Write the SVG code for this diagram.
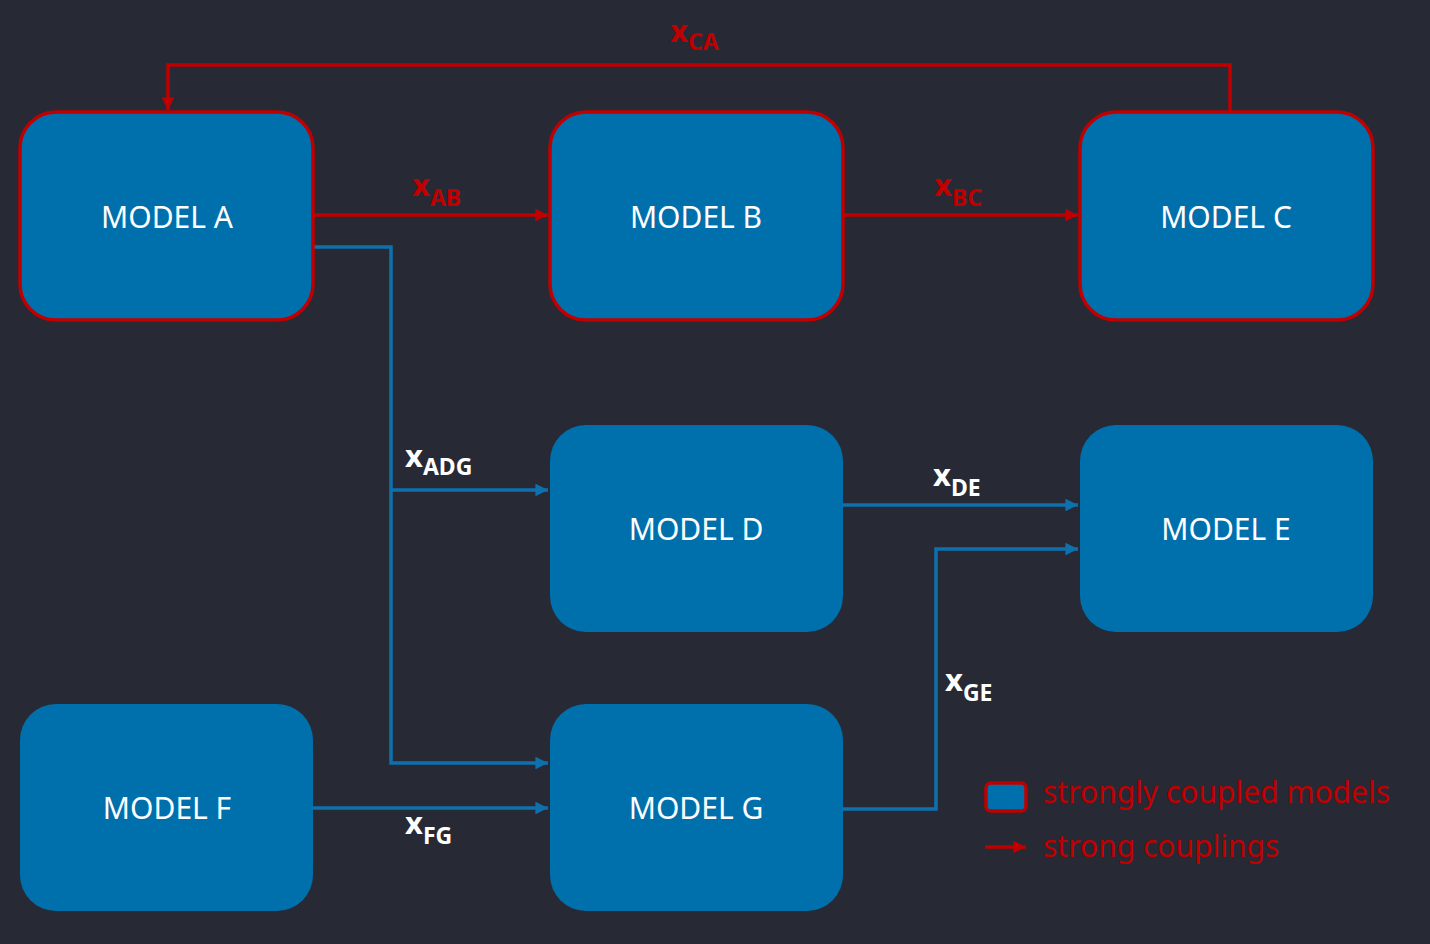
<svg xmlns="http://www.w3.org/2000/svg" width="1430" height="944" viewBox="0 0 1430 944">
<defs>
<marker id="ar" viewBox="0 0 10 10" refX="10" refY="5" markerWidth="4" markerHeight="3.6" orient="auto" markerUnits="strokeWidth"><path d="M0,0 L10,5 L0,10 z" fill="#C00000"/></marker>
<marker id="ab" viewBox="0 0 10 10" refX="10" refY="5" markerWidth="4" markerHeight="3.6" orient="auto" markerUnits="strokeWidth"><path d="M0,0 L10,5 L0,10 z" fill="#0F70AE"/></marker>
<style>
.node{fill:#0070AD}
.strong{stroke:#C00000;stroke-width:3.5}
.nt{font-family:"Noto Sans","Open Sans",sans-serif;font-size:30px;fill:#FFFFFF;text-anchor:middle}
.rl{fill:none;stroke:#C00000;stroke-width:3.5;marker-end:url(#ar)}
.bl{fill:none;stroke:#0F70AE;stroke-width:3.5;marker-end:url(#ab)}
.lab{font-family:"Noto Sans","Open Sans",sans-serif;font-weight:bold;font-size:31px}
.sub{font-size:23px}
.red{fill:#C00000}
.wh{fill:#FFFFFF}
.leg{font-family:"Noto Sans","Open Sans",sans-serif;font-size:30px;fill:#C00000}
</style>
</defs>
<rect width="1430" height="944" fill="#272935"/>
<g id="connectors">
<path class="rl" d="M1230,112 V65 H168 V110"/>
<path class="rl" d="M313,215 H548"/>
<path class="rl" d="M843,215 H1078"/>
<path class="bl" d="M313,247 H391 V763 H548"/>
<path class="bl" d="M391,490 H548"/>
<path class="bl" d="M843,505 H1078"/>
<path class="bl" d="M843,809 H936 V549 H1078"/>
<path class="bl" d="M313,808 H548"/>
<text class="lab red" x="670" y="42">x<tspan class="sub" dy="8">CA</tspan></text>
<text class="lab red" x="412" y="196">x<tspan class="sub" dy="10">AB</tspan></text>
<text class="lab red" x="934" y="196">x<tspan class="sub" dy="10">BC</tspan></text>
<text class="lab wh" x="405" y="467">x<tspan class="sub" dy="8">ADG</tspan></text>
<text class="lab wh" x="933" y="486">x<tspan class="sub" dy="10">DE</tspan></text>
<text class="lab wh" x="945" y="691">x<tspan class="sub" dy="10">GE</tspan></text>
<text class="lab wh" x="405" y="834">x<tspan class="sub" dy="10">FG</tspan></text>
</g>
<g id="modelA"><rect class="node strong" x="20" y="112" width="293" height="208" rx="36"/><text class="nt" x="167" y="228">MODEL A</text></g>
<g id="modelB"><rect class="node strong" x="550" y="112" width="293" height="208" rx="36"/><text class="nt" x="696" y="228">MODEL B</text></g>
<g id="modelC"><rect class="node strong" x="1080" y="112" width="293" height="208" rx="36"/><text class="nt" x="1226" y="228">MODEL C</text></g>
<g id="modelD"><rect class="node" x="550" y="425" width="293" height="207" rx="36"/><text class="nt" x="696" y="540">MODEL D</text></g>
<g id="modelE"><rect class="node" x="1080" y="425" width="293" height="207" rx="36"/><text class="nt" x="1226" y="540">MODEL E</text></g>
<g id="modelF"><rect class="node" x="20" y="704" width="293" height="207" rx="36"/><text class="nt" x="167" y="819">MODEL F</text></g>
<g id="modelG"><rect class="node" x="550" y="704" width="293" height="207" rx="36"/><text class="nt" x="696" y="819">MODEL G</text></g>
<g id="legend">
<rect x="986" y="783" width="40" height="28" rx="5" fill="#0070AD" stroke="#C00000" stroke-width="3.5"/>
<text class="leg" x="1043" y="803">strongly coupled models</text>
<path class="rl" d="M985,847 H1026"/>
<text class="leg" x="1043" y="857">strong couplings</text>
</g>
</svg>
